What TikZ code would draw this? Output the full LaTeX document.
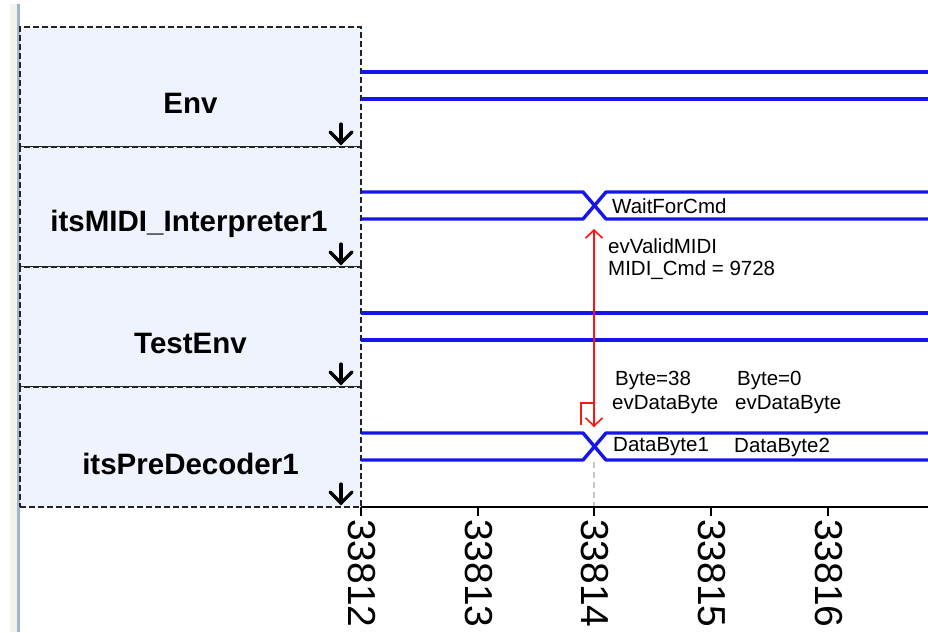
\documentclass[tikz,border=0pt]{standalone}
\usepackage{fontspec}
\setmainfont{Liberation Sans}
\usetikzlibrary{arrows.meta}
\definecolor{sigblue}{RGB}{20,20,235}
\definecolor{boxfill}{RGB}{239,243,254}
\definecolor{boxedge}{RGB}{35,35,35}
\definecolor{railgrey}{RGB}{243,242,237}
\definecolor{railblue}{RGB}{158,182,208}
\definecolor{msgred}{RGB}{255,20,20}
\tikzset{
  lifebox/.style={draw=boxedge, fill=boxfill, line width=1.8pt,
    dash pattern=on 6pt off 3pt, minimum width=341pt, minimum height=120pt,
    inner sep=0pt, outer sep=0pt},
  lifelabel/.style={font=\bfseries\fontsize{29.5}{31}\selectfont, anchor=base, inner sep=0pt},
  sig/.style={draw=sigblue, line width=3.4pt, line join=round},
  collapse/.style={draw=black, line width=3.2pt, line cap=round, line join=miter},
  msgtext/.style={font=\fontsize{20.5}{22}\selectfont, anchor=west, inner sep=0pt},
  msg/.style={draw=msgred, line width=1.6pt},
  ticklabel/.style={font=\fontsize{39}{40}\selectfont, rotate=-90, anchor=west, inner sep=0pt},
}
\begin{document}
\begin{tikzpicture}[x=1pt,y=-1pt]
\useasboundingbox (0,0) rectangle (928,632);
\fill[white] (0,0) rectangle (928,632);
% left rail of the window
\fill[railgrey] (10,4) rectangle (17,632);
\fill[railblue] (17,4) rectangle (19.5,632);

% lifeline boxes
\node[lifebox] (env)  at (190.5,87)  {};
\node[lifebox] (midi) at (190.5,207) {};
\node[lifebox] (test) at (190.5,327) {};
\node[lifebox] (pre)  at (190.5,447) {};

\node[lifelabel] (envL)  at (190.5,113) {Env};
\node[lifelabel] (midiL) at (189,231) {itsMIDI\_Interpreter1};
\node[lifelabel] (testL) at (190.5,353) {TestEnv};
\node[lifelabel] (preL)  at (190.5,474) {itsPreDecoder1};

% collapse arrows in the lower right corner of each box
\foreach \b/\y in {env/147, midi/267, test/387, pre/507} {
  \draw[collapse] (341,\y-23) -- (341,\y-4);
  \draw[collapse] (330,\y-15) -- (341,\y-4) -- (352,\y-15);
}

% state lines
\draw[sig] (361,72) -- (928,72);
\draw[sig] (361,99) -- (928,99);

\draw[sig] (361,192) -- (583,192) -- (606,219) -- (928,219);
\draw[sig] (361,219) -- (583,219) -- (606,192) -- (928,192);

\draw[sig] (361,313) -- (928,313);
\draw[sig] (361,340) -- (928,340);

\draw[sig] (361,433) -- (583,433) -- (606,460) -- (928,460);
\draw[sig] (361,460) -- (583,460) -- (606,433) -- (928,433);

% state names
\node[msgtext] (s1) at (612,206) {WaitForCmd};
\node[msgtext] (s2) at (613,447) {DataByte1};
\node[msgtext] (s3) at (734,447) {DataByte2};

% time cursor
\draw[gray!45, line width=1.2pt, dash pattern=on 6pt off 4pt] (594,462) -- (594,507);

% messages
\coordinate (upfrom) at (594,427);
\coordinate (upto)   at (594,229);
\draw[msg, -{Straight Barb[length=8pt,width=17pt,line width=1.6pt]}] (upfrom) -- (upto);
\coordinate (dfrom) at (581,425);
\coordinate (dto)   at (594,427);
\draw[msg, -{Straight Barb[length=8pt,width=17pt,line width=1.6pt]}] (dfrom) |- (594,403) -- (dto);

\node[msgtext] (m1) at (608,246) {evValidMIDI};
\node[msgtext] (m2) at (608,270) {MIDI\_Cmd = 9728};
\node[msgtext] (m3) at (615,380) {Byte=38};
\node[msgtext] (m4) at (612,405) {evDataByte};
\node[msgtext] (m5) at (737,380) {Byte=0};
\node[msgtext] (m6) at (735,405) {evDataByte};

% time axis
\draw[black, line width=1.4pt] (361,507) -- (928,507);
\foreach \x/\t in {361/33812, 478/33813, 594/33814, 711/33815, 828/33816} {
  \draw[black, line width=1.4pt] (\x,507) -- (\x,516);
  \node[ticklabel] at (\x+1,519) {\t};
}
\end{tikzpicture}
\end{document}
